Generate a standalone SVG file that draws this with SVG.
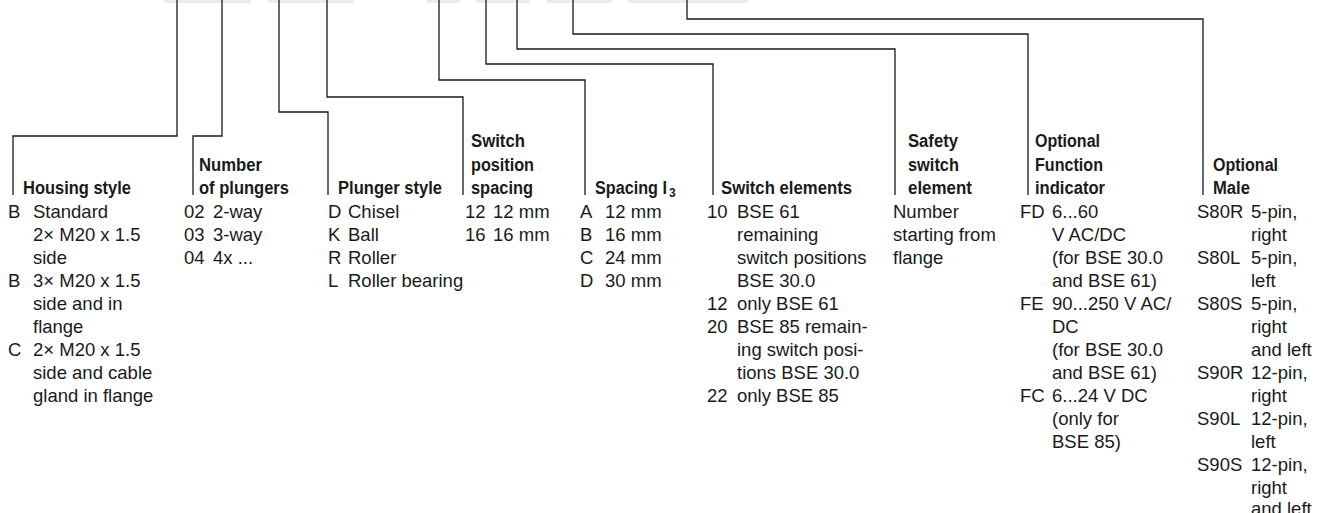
<svg xmlns="http://www.w3.org/2000/svg" width="1329" height="513" viewBox="0 0 1329 513">
<style>
.h{font-family:"Liberation Sans",Arial,sans-serif;font-weight:bold;font-size:18px;fill:#1a1a1a}
.s{font-family:"Liberation Sans",Arial,sans-serif;font-weight:bold;font-size:12px;fill:#1a1a1a}
.b{font-family:"Liberation Sans",Arial,sans-serif;font-size:18.5px;fill:#1a1a1a}
.c{fill:none;stroke:#1a1a1a;stroke-width:1.3}
.f{fill:#ececec}
</style>
<rect width="1329" height="513" fill="#fff"/>
<g id="code-fields">
<rect class="f" x="164" y="0" width="87" height="3"/>
<rect class="f" x="268" y="0" width="86" height="3"/>
<rect class="f" x="427" y="0" width="33" height="3"/>
<rect class="f" x="476" y="0" width="54" height="3"/>
<rect class="f" x="547" y="0" width="65" height="3"/>
<rect class="f" x="628" y="0" width="120" height="3"/>
</g>
<g id="connectors">
<polyline class="c" points="177,0 177,136 13,136 13,195"/>
<polyline class="c" points="222,0 222,136 193,136 193,195"/>
<polyline class="c" points="279,0 279,112 328,112 328,195"/>
<polyline class="c" points="327,0 327,97 463,97 463,195"/>
<polyline class="c" points="439,0 439,80 585,80 585,195"/>
<polyline class="c" points="486,0 486,64 713,64 713,195"/>
<polyline class="c" points="517,0 517,49 895,49 895,195"/>
<polyline class="c" points="573,0 573,34 1028,34 1028,195"/>
<polyline class="c" points="687,0 687,19 1203,19 1203,195"/>
</g>
<g id="housing-style">
<text class="h" x="23" y="194" textLength="108" lengthAdjust="spacingAndGlyphs">Housing style</text>
<text class="b">
<tspan x="8" y="218">B</tspan><tspan x="33" y="218">Standard</tspan>
<tspan x="33" y="241">2× M20 x 1.5</tspan>
<tspan x="33" y="264">side</tspan>
<tspan x="8" y="287">B</tspan><tspan x="33" y="287">3× M20 x 1.5</tspan>
<tspan x="33" y="310">side and in</tspan>
<tspan x="33" y="333">flange</tspan>
<tspan x="8" y="356">C</tspan><tspan x="33" y="356">2× M20 x 1.5</tspan>
<tspan x="33" y="379">side and cable</tspan>
<tspan x="33" y="402">gland in flange</tspan>
</text>
</g>
<g id="number-of-plungers">
<text class="h" x="199" y="170.5" textLength="63" lengthAdjust="spacingAndGlyphs">Number</text>
<text class="h" x="199" y="194" textLength="90" lengthAdjust="spacingAndGlyphs">of plungers</text>
<text class="b">
<tspan x="184" y="218">02</tspan><tspan x="213" y="218">2-way</tspan>
<tspan x="184" y="241">03</tspan><tspan x="213" y="241">3-way</tspan>
<tspan x="184" y="264">04</tspan><tspan x="213" y="264">4x ...</tspan>
</text>
</g>
<g id="plunger-style">
<text class="h" x="338" y="194" textLength="104" lengthAdjust="spacingAndGlyphs">Plunger style</text>
<text class="b">
<tspan x="328" y="218">D</tspan><tspan x="348" y="218">Chisel</tspan>
<tspan x="328" y="241">K</tspan><tspan x="348" y="241">Ball</tspan>
<tspan x="328" y="264">R</tspan><tspan x="348" y="264">Roller</tspan>
<tspan x="328" y="287">L</tspan><tspan x="348" y="287">Roller bearing</tspan>
</text>
</g>
<g id="switch-position-spacing">
<text class="h" x="471" y="147" textLength="54" lengthAdjust="spacingAndGlyphs">Switch</text>
<text class="h" x="471" y="170.5" textLength="63" lengthAdjust="spacingAndGlyphs">position</text>
<text class="h" x="471" y="194" textLength="62" lengthAdjust="spacingAndGlyphs">spacing</text>
<text class="b">
<tspan x="465" y="218">12</tspan><tspan x="493" y="218">12 mm</tspan>
<tspan x="465" y="241">16</tspan><tspan x="493" y="241">16 mm</tspan>
</text>
</g>
<g id="spacing-l3">
<text class="h" x="595" y="194" textLength="72" lengthAdjust="spacingAndGlyphs">Spacing I</text>
<text class="s" x="669" y="197">3</text>
<text class="b">
<tspan x="580" y="218">A</tspan><tspan x="605" y="218">12 mm</tspan>
<tspan x="580" y="241">B</tspan><tspan x="605" y="241">16 mm</tspan>
<tspan x="580" y="264">C</tspan><tspan x="605" y="264">24 mm</tspan>
<tspan x="580" y="287">D</tspan><tspan x="605" y="287">30 mm</tspan>
</text>
</g>
<g id="switch-elements">
<text class="h" x="721" y="194" textLength="131" lengthAdjust="spacingAndGlyphs">Switch elements</text>
<text class="b">
<tspan x="707" y="218">10</tspan><tspan x="737" y="218">BSE 61</tspan>
<tspan x="737" y="241">remaining</tspan>
<tspan x="737" y="264">switch positions</tspan>
<tspan x="737" y="287">BSE 30.0</tspan>
<tspan x="707" y="310">12</tspan><tspan x="737" y="310">only BSE 61</tspan>
<tspan x="707" y="333">20</tspan><tspan x="737" y="333">BSE 85 remain-</tspan>
<tspan x="737" y="356">ing switch posi-</tspan>
<tspan x="737" y="379">tions BSE 30.0</tspan>
<tspan x="707" y="402">22</tspan><tspan x="737" y="402">only BSE 85</tspan>
</text>
</g>
<g id="safety-switch-element">
<text class="h" x="908" y="147" textLength="50" lengthAdjust="spacingAndGlyphs">Safety</text>
<text class="h" x="908" y="170.5" textLength="51" lengthAdjust="spacingAndGlyphs">switch</text>
<text class="h" x="908" y="194" textLength="64" lengthAdjust="spacingAndGlyphs">element</text>
<text class="b">
<tspan x="893" y="218">Number</tspan>
<tspan x="893" y="241">starting from</tspan>
<tspan x="893" y="264">flange</tspan>
</text>
</g>
<g id="function-indicator">
<text class="h" x="1035" y="147" textLength="65" lengthAdjust="spacingAndGlyphs">Optional</text>
<text class="h" x="1035" y="170.5" textLength="68" lengthAdjust="spacingAndGlyphs">Function</text>
<text class="h" x="1035" y="194" textLength="70" lengthAdjust="spacingAndGlyphs">indicator</text>
<text class="b">
<tspan x="1020" y="218">FD</tspan><tspan x="1052" y="218">6...60</tspan>
<tspan x="1052" y="241">V AC/DC</tspan>
<tspan x="1052" y="264">(for BSE 30.0</tspan>
<tspan x="1052" y="287">and BSE 61)</tspan>
<tspan x="1020" y="310">FE</tspan><tspan x="1052" y="310">90...250 V AC/</tspan>
<tspan x="1052" y="333">DC</tspan>
<tspan x="1052" y="356">(for BSE 30.0</tspan>
<tspan x="1052" y="379">and BSE 61)</tspan>
<tspan x="1020" y="402">FC</tspan><tspan x="1052" y="402">6...24 V DC</tspan>
<tspan x="1052" y="425">(only for</tspan>
<tspan x="1052" y="448">BSE 85)</tspan>
</text>
</g>
<g id="optional-male">
<text class="h" x="1213" y="170.5" textLength="65" lengthAdjust="spacingAndGlyphs">Optional</text>
<text class="h" x="1213" y="194" textLength="37" lengthAdjust="spacingAndGlyphs">Male</text>
<text class="b">
<tspan x="1197" y="218">S80R</tspan><tspan x="1251" y="218">5-pin,</tspan>
<tspan x="1251" y="241">right</tspan>
<tspan x="1197" y="264">S80L</tspan><tspan x="1251" y="264">5-pin,</tspan>
<tspan x="1251" y="287">left</tspan>
<tspan x="1197" y="310">S80S</tspan><tspan x="1251" y="310">5-pin,</tspan>
<tspan x="1251" y="333">right</tspan>
<tspan x="1251" y="356">and left</tspan>
<tspan x="1197" y="379">S90R</tspan><tspan x="1251" y="379">12-pin,</tspan>
<tspan x="1251" y="402">right</tspan>
<tspan x="1197" y="425">S90L</tspan><tspan x="1251" y="425">12-pin,</tspan>
<tspan x="1251" y="448">left</tspan>
<tspan x="1197" y="471">S90S</tspan><tspan x="1251" y="471">12-pin,</tspan>
<tspan x="1251" y="494">right</tspan>
<tspan x="1251" y="515">and left</tspan>
</text>
</g>
</svg>
